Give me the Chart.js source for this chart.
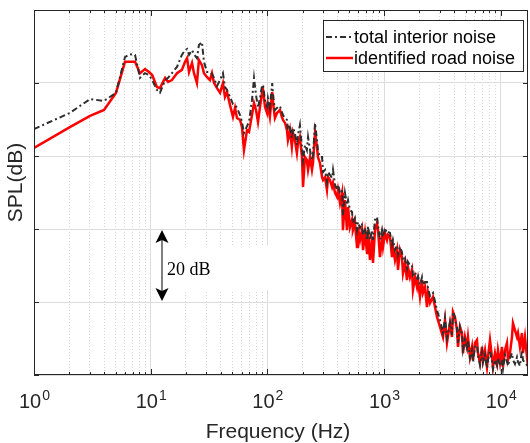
<!DOCTYPE html>
<html>
<head>
<meta charset="utf-8">
<script src="https://cdn.jsdelivr.net/npm/chart.js@4"></script>
<style>
  html, body { margin: 0; padding: 0; background: #fff; }
</style>
</head>
<body>
<canvas id="spl" width="530" height="443"></canvas>
<script>
// Frequency (Hz) - shared by both curves
const freqHz = [
  1, 2.03, 3.02, 3.98, 5.04, 6.02, 6.65, 7.34, 8.10, 8.94,
  9.67, 10.3, 11.3, 12.0, 13.3, 14.1, 15.2, 16.8, 18.5, 19.7,
  20.5, 21.3, 22.6, 23.5, 24.9, 25.9, 27.5, 28.6, 30.4, 32.2,
  33.5, 34.9, 37.0, 39.3, 41.6, 43.3, 45.1, 47.8, 50.7, 52.8,
  54.9, 58.3, 60.6, 63.0, 66.9, 69.6, 73.8, 76.8, 79.9, 83.1,
  86.4, 89.9, 91.7, 95.4, 99.2, 101, 105, 110, 112, 116,
  121, 128, 133, 136, 142, 147, 150, 156, 162, 166,
  172, 179, 183, 190, 198, 202, 210, 218, 223, 232,
  241, 246, 256, 266, 271, 282, 294, 300, 312, 324,
  331, 344, 358, 365, 380, 395, 403, 419, 436, 444,
  462, 481, 491, 510, 531, 541, 563, 586, 597, 622,
  646, 660, 686, 714, 728, 757, 788, 803, 836, 869,
  887, 922, 960, 979, 1018, 1059, 1080, 1124, 1169, 1192,
  1240, 1290, 1315, 1368, 1423, 1452, 1510, 1571, 1602, 1667,
  1734, 1768, 1840, 1914, 1952, 2030, 2112, 2154, 2241, 2331,
  2378, 2474, 2624, 2840, 3013, 3197, 3326, 3459, 3670, 3818,
  3894, 4050, 4213, 4297, 4470, 4650, 4743, 4933, 5132, 5235,
  5445, 5665, 5778, 6010, 6252, 6377, 6634, 6901, 7039, 7321,
  7617, 7769, 8082, 8407, 8575, 8920, 9278, 9463, 9842, 10240,
  10440, 10860, 11300, 11530, 11990, 12470, 12720, 13230, 13770, 14040,
  14600, 15190, 15500, 16120, 16770, 17110
];

// SPL (dB, relative) - total interior noise
const totalNoise = [
  67.4, 71.8, 75.6, 75.1, 77.3, 87.1, 87.9, 87.7, 81.4, 82.7,
  82.2, 80.8, 78.1, 77.3, 80.8, 81.4, 82.7, 84.4, 87.7, 89.0,
  89.3, 87.7, 89.0, 87.9, 86.8, 90.4, 91.2, 85.8, 83.0, 83.0,
  82.5, 81.4, 79.2, 80.8, 82.7, 78.9, 78.1, 76.2, 74.2, 74.0,
  73.2, 71.2, 69.3, 66.3, 68.2, 69.3, 75.3, 81.4, 76.7, 73.2,
  75.9, 79.2, 79.5, 75.3, 73.7, 75.9, 73.2, 80.0, 76.7, 72.6,
  73.2, 73.7, 72.1, 71.2, 70.4, 69.9, 67.1, 68.5, 64.9, 67.7,
  66.3, 63.0, 65.8, 68.5, 62.2, 58.9, 63.0, 61.6, 65.2, 61.6,
  58.9, 60.3, 69.0, 64.4, 61.6, 59.7, 59.7, 55.6, 56.2, 52.9,
  55.6, 54.8, 54.0, 56.2, 52.1, 50.7, 52.1, 50.1, 50.7, 43.8,
  49.9, 46.6, 47.9, 45.2, 44.7, 41.6, 43.0, 39.7, 41.9, 40.3,
  41.6, 38.4, 40.3, 37.0, 40.8, 37.0, 39.7, 37.0, 42.5, 43.3,
  41.1, 37.0, 39.7, 37.8, 40.3, 38.9, 39.2, 38.9, 35.6, 37.0,
  34.2, 35.6, 32.9, 35.1, 33.7, 31.5, 32.1, 29.3, 31.0, 30.1,
  30.1, 27.4, 28.2, 26.6, 27.1, 24.7, 26.8, 24.7, 25.5, 25.5,
  23.8, 21.6, 22.5, 17.8, 15.1, 11.5, 15.6, 10.1, 14.5, 11.0,
  17.3, 15.6, 12.9, 8.8, 13.2, 11.0, 6.8, 9.6, 7.4, 9.6,
  4.7, 6.8, 3.6, 7.7, 8.2, 5.5, 2.7, 6.3, 3.3, 5.5,
  1.9, 4.1, 6.8, 3.6, 1.6, 4.1, 2.5, 4.7, 2.5, 4.1,
  1.6, 5.5, 3.6, 2.5, 4.7, 6.0, 4.1, 3.0, 4.9, 3.6,
  2.5, 6.8, 4.1, 3.3, 2.7, 1.4
];

// SPL (dB, relative) - identified road noise
const roadNoise = [
  62.2, 67.9, 71.0, 72.6, 77.3, 85.8, 85.8, 85.8, 82.7, 83.8,
  83.0, 82.2, 78.9, 78.6, 81.4, 80.3, 80.8, 82.7, 83.6, 85.8,
  86.8, 83.0, 85.5, 82.7, 80.0, 86.3, 84.9, 82.7, 81.6, 80.8,
  82.7, 80.0, 78.6, 77.3, 80.0, 76.2, 77.5, 74.0, 70.7, 73.2,
  70.4, 69.9, 67.9, 61.6, 67.1, 66.6, 71.2, 74.5, 72.6, 69.3,
  73.4, 77.3, 78.1, 73.4, 71.8, 74.0, 70.7, 77.5, 74.5, 70.4,
  71.8, 72.6, 70.7, 69.9, 69.0, 67.1, 64.4, 67.1, 62.5, 66.3,
  64.4, 60.8, 63.6, 65.2, 59.7, 51.5, 59.7, 58.9, 56.2, 59.7,
  56.2, 58.1, 66.3, 62.5, 59.7, 58.1, 54.2, 53.4, 54.2, 50.7,
  54.2, 53.4, 51.5, 52.6, 49.9, 48.8, 50.7, 47.1, 49.9, 39.7,
  47.9, 39.7, 46.0, 40.5, 42.5, 39.7, 41.6, 35.1, 40.5, 37.0,
  39.7, 34.2, 38.9, 33.4, 39.7, 31.5, 37.8, 30.7, 39.7, 41.6,
  39.7, 32.3, 37.8, 35.1, 38.9, 37.0, 38.4, 37.8, 32.3, 35.1,
  31.5, 34.2, 28.8, 34.2, 32.3, 27.9, 30.7, 26.0, 29.6, 26.8,
  28.8, 23.3, 26.8, 24.1, 26.0, 21.4, 26.0, 22.5, 24.1, 18.6,
  22.5, 19.7, 21.4, 15.9, 13.2, 10.4, 15.1, 8.8, 14.2, 10.4,
  17.3, 15.9, 12.3, 7.7, 13.2, 11.5, 6.0, 10.4, 7.7, 10.4,
  4.9, 7.7, 4.1, 8.8, 9.6, 6.0, 3.3, 7.7, 4.1, 6.8,
  2.2, 4.9, 9.6, 4.9, 2.2, 6.0, 3.3, 6.8, 3.3, 7.7,
  2.2, 6.8, 8.8, 4.1, 6.0, 10.4, 14.2, 12.3, 10.4, 11.5,
  7.7, 11.5, 6.0, 10.4, 4.9, 2.2
];

const seriesLabels = ["total interior noise", "identified road noise"];
const decadeExponents = [0, 1, 2, 3, 4];
const freqMin = 1;
const freqMax = 17110;
const splMin = 0;
const splMax = 100;
const splStep = 20;
const scaleBarDb = 20; // the "20 dB" marker
const scaleBarFrom = 20;

const isDecade = v => Math.abs(Math.log10(v) - Math.round(Math.log10(v))) < 1e-6;
const isLogTick = v => {
  const e = Math.floor(Math.log10(v) + 1e-9);
  const m = v / Math.pow(10, e);
  return Math.abs(m - Math.round(m)) < 1e-6;
};

// frame, inward ticks, tick labels, axis titles, legend and the 20 dB marker
const decorPlugin = {
  id: "decor",
  beforeDatasetsDraw(chart) {
    const { ctx, scales } = chart;
    // white box behind the dB marker
    ctx.save();
    ctx.fillStyle = "#ffffff";
    ctx.fillRect(154, scales.y.getPixelForValue(scaleBarFrom + 15.5), 118, 45);
    ctx.restore();
  },
  afterDatasetsDraw(chart) {
    const { ctx, chartArea: a, scales } = chart;
    const x = scales.x, y = scales.y;
    ctx.save();

    // frame
    ctx.strokeStyle = "#262626";
    ctx.lineWidth = 1;
    ctx.strokeRect(a.left + 0.5, a.top + 0.5, a.right - a.left - 1, a.bottom - a.top - 1);

    // inward tick marks
    ctx.beginPath();
    x.ticks.forEach(t => {
      if (!isLogTick(t.value) || t.value > freqMax) return;
      const px = Math.round(x.getPixelForValue(t.value)) + 0.5;
      const len = isDecade(t.value) ? 6 : 3;
      ctx.moveTo(px, a.bottom); ctx.lineTo(px, a.bottom - len);
      ctx.moveTo(px, a.top); ctx.lineTo(px, a.top + len);
    });
    y.ticks.forEach(t => {
      const py = Math.round(y.getPixelForValue(t.value)) + 0.5;
      ctx.moveTo(a.left, py); ctx.lineTo(a.left + 5, py);
      ctx.moveTo(a.right, py); ctx.lineTo(a.right - 5, py);
    });
    ctx.stroke();

    // decade labels 10^n
    ctx.fillStyle = "#262626";
    ctx.textBaseline = "alphabetic";
    decadeExponents.forEach(n => {
      const px = x.getPixelForValue(Math.pow(10, n));
      ctx.font = "20px 'Liberation Sans', Arial, sans-serif";
      const wBase = ctx.measureText("10").width;
      ctx.font = "14px 'Liberation Sans', Arial, sans-serif";
      const wExp = ctx.measureText(String(n)).width;
      const left = px - (wBase + wExp) / 2;
      ctx.font = "20px 'Liberation Sans', Arial, sans-serif";
      ctx.textAlign = "left";
      ctx.fillText("10", left, 408);
      ctx.font = "14px 'Liberation Sans', Arial, sans-serif";
      ctx.fillText(String(n), left + wBase + 1, 400);
    });

    // axis titles
    ctx.font = "21px 'Liberation Sans', Arial, sans-serif";
    ctx.textAlign = "center";
    ctx.fillText("Frequency (Hz)", (a.left + a.right) / 2 - 3, 438);
    ctx.save();
    ctx.translate(16, (a.top + a.bottom) / 2 - 10);
    ctx.rotate(-Math.PI / 2);
    ctx.textBaseline = "middle";
    ctx.fillText("SPL(dB)", 0, 0);
    ctx.restore();

    // 20 dB marker
    const ax = 162;
    const yTop = y.getPixelForValue(scaleBarFrom + scaleBarDb);
    const yBot = y.getPixelForValue(scaleBarFrom);
    ctx.strokeStyle = "#555555";
    ctx.lineWidth = 1.5;
    ctx.beginPath();
    ctx.moveTo(ax, yTop + 8); ctx.lineTo(ax, yBot - 8);
    ctx.stroke();
    ctx.fillStyle = "#000000";
    ctx.beginPath();
    ctx.moveTo(ax, yTop + 1); ctx.lineTo(ax - 6.5, yTop + 14); ctx.lineTo(ax, yTop + 11); ctx.lineTo(ax + 6.5, yTop + 14);
    ctx.closePath(); ctx.fill();
    ctx.beginPath();
    ctx.moveTo(ax, yBot - 1); ctx.lineTo(ax - 6.5, yBot - 14); ctx.lineTo(ax, yBot - 11); ctx.lineTo(ax + 6.5, yBot - 14);
    ctx.closePath(); ctx.fill();
    ctx.font = "18px 'Liberation Serif', 'Times New Roman', serif";
    ctx.textAlign = "left";
    ctx.textBaseline = "alphabetic";
    ctx.fillText(scaleBarDb + " dB", 167, 275);

    // legend
    const lx = 323, ly = 20, lw = 200, lh = 51;
    ctx.fillStyle = "#ffffff";
    ctx.fillRect(lx, ly, lw, lh);
    ctx.strokeStyle = "#262626";
    ctx.lineWidth = 1;
    ctx.strokeRect(lx + 0.5, ly + 0.5, lw, lh);
    chart.data.datasets.forEach((ds, i) => {
      const rowY = ly + 17 + i * 21;
      ctx.strokeStyle = ds.borderColor;
      ctx.lineWidth = ds.borderWidth;
      ctx.setLineDash(ds.borderDash || []);
      ctx.beginPath();
      ctx.moveTo(lx + 3, rowY); ctx.lineTo(lx + 30, rowY);
      ctx.stroke();
      ctx.setLineDash([]);
      ctx.fillStyle = "#000000";
      ctx.font = "18px 'Liberation Sans', Arial, sans-serif";
      ctx.textBaseline = "middle";
      ctx.fillText(ds.label, lx + 31, rowY + 1);
    });

    ctx.restore();
  }
};

const toPoints = values => freqHz.map((f, i) => ({ x: f, y: values[i] }));

new Chart(document.getElementById("spl").getContext("2d"), {
  type: "line",
  data: {
    datasets: [
      {
        label: seriesLabels[0],
        data: toPoints(totalNoise),
        borderColor: "#2e2e2e",
        borderWidth: 2,
        borderDash: [6, 3, 2, 3],
        pointRadius: 0,
        tension: 0,
        fill: false
      },
      {
        label: seriesLabels[1],
        data: toPoints(roadNoise),
        borderColor: "#ff0000",
        borderWidth: 2.5,
        pointRadius: 0,
        tension: 0,
        fill: false
      }
    ]
  },
  options: {
    responsive: false,
    animation: false,
    devicePixelRatio: 1,
    layout: { padding: { top: 10, right: 2, left: 0, bottom: 0 } },
    plugins: { legend: { display: false }, tooltip: { enabled: false } },
    scales: {
      x: {
        type: "logarithmic",
        min: freqMin,
        max: freqMax,
        afterFit: s => { s.height = 68; },
        ticks: { display: false, autoSkip: false },
        grid: {
          drawTicks: false,
          lineWidth: 1,
          color: c => (c.tick && isDecade(c.tick.value) ? "#dcdcdc" : (c.tick && isLogTick(c.tick.value) ? "#d4d4d4" : "rgba(0,0,0,0)"))
        },
        border: {
          display: false,
          dash: c => (c.tick && !isDecade(c.tick.value) ? [1, 2] : [])
        }
      },
      y: {
        min: splMin,
        max: splMax,
        afterFit: s => { s.width = 34; },
        ticks: { display: false, stepSize: splStep },
        grid: { drawTicks: false, color: "#dcdcdc", lineWidth: 1 },
        border: { display: false }
      }
    }
  },
  plugins: [decorPlugin]
});
</script>
</body>
</html>
